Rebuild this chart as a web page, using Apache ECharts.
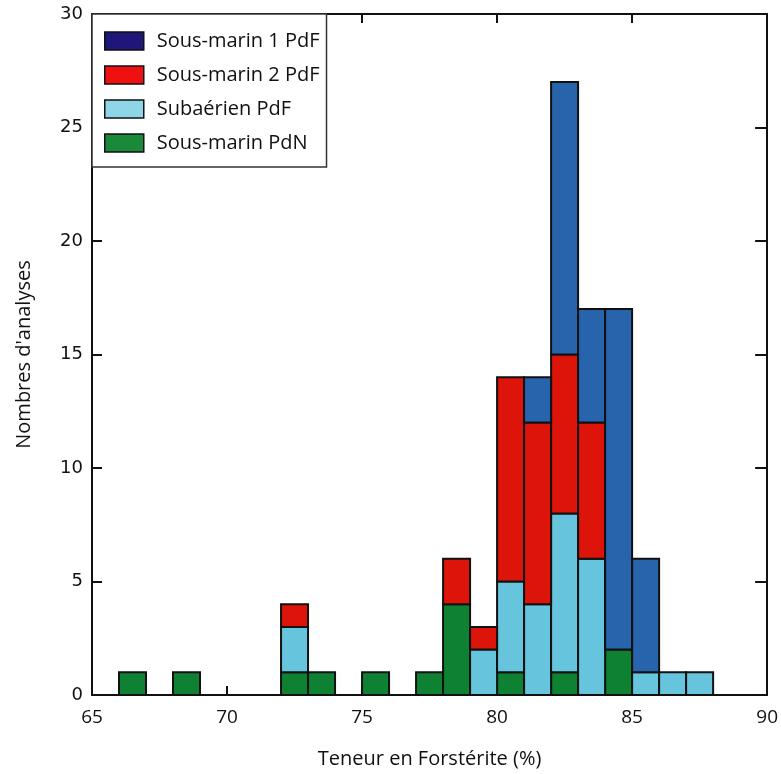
<!DOCTYPE html>
<html>
<head>
<meta charset="utf-8">
<script src="https://cdn.jsdelivr.net/npm/echarts@6/dist/echarts.min.js"></script>
<style>
html,body{margin:0;padding:0;background:#fff;}
#chart{width:781px;height:774px;}
</style>
</head>
<body>
<div id="chart"></div>
<script>
// Bin starts (bins of width 1, Fo %)
var binStarts = [65,66,67,68,69,70,71,72,73,74,75,76,77,78,79,80,81,82,83,84,85,86,87,88,89];
var binWidth = 1;
// Counts per bin (stack order bottom -> top)
var sousMarinPdN  = [0,1,0,1,0,0,0,1,1,0,1,0,1,4,0,1,0,1,0,2,0,0,0,0,0];
var subaerienPdF  = [0,0,0,0,0,0,0,2,0,0,0,0,0,0,2,4,4,7,6,0,1,1,1,0,0];
var sousMarin2PdF = [0,0,0,0,0,0,0,1,0,0,0,0,0,2,1,9,8,7,6,0,0,0,0,0,0];
var sousMarin1PdF = [0,0,0,0,0,0,0,0,0,0,0,0,0,0,0,0,2,12,5,15,5,0,0,0,0];

var seriesNames = ['Sous-marin PdN','Subaérien PdF','Sous-marin 2 PdF','Sous-marin 1 PdF'];
var seriesValues = [sousMarinPdN, subaerienPdF, sousMarin2PdF, sousMarin1PdF];
var barColors = ['#0e8232','#66c5dc','#dc1409','#2764ab'];
var legendColors = {'Sous-marin 1 PdF':'#1c1779','Sous-marin 2 PdF':'#f01010','Subaérien PdF':'#8fd5e8','Sous-marin PdN':'#1a8a3a'};
var legendOrder = ['Sous-marin 1 PdF','Sous-marin 2 PdF','Subaérien PdF','Sous-marin PdN'];

var xTicks = {min:65, max:90, interval:5};
var yTicks = {min:0, max:30, interval:5};

var base = binStarts.map(function(){return 0;});
var series = seriesValues.map(function(vals, si){
  var data = [];
  vals.forEach(function(v, i){
    if (v > 0) {
      data.push([binStarts[i], binStarts[i] + binWidth, base[i], base[i] + v]);
      base[i] += v;
    }
  });
  return {
    type:'custom',
    name: seriesNames[si],
    itemStyle:{color: barColors[si]},
    data: data,
    encode:{x:[0,1], y:[2,3]},
    renderItem: function(params, api){
      var p0 = api.coord([api.value(0), api.value(2)]);
      var p1 = api.coord([api.value(1), api.value(3)]);
      return {
        type:'rect',
        shape:{x:p0[0], y:p1[1], width:p1[0]-p0[0], height:p0[1]-p1[1]},
        style:{fill: barColors[si], stroke:'#111', lineWidth:2}
      };
    },
    z: 2
  };
});

var chart = echarts.init(document.getElementById('chart'), null, {renderer:'canvas'});
var axisLine = {show:true, onZero:false, lineStyle:{color:'#111', width:2}};
chart.setOption({
  backgroundColor:'#fff',
  animation:false,
  grid:{left:92, right:10, top:14, bottom:75, containLabel:false},
  legend:{
    orient:'vertical', left:92, top:14,
    backgroundColor:'#fff', borderColor:'#333', borderWidth:1.5,
    padding:[17,7,14,12],
    itemWidth:39, itemHeight:18, itemGap:14,
    icon:'rect',
    textStyle:{fontFamily:'Open Sans', fontSize:20, lineHeight:20, color:'#111', padding:[0,0,0,8]},
    data: legendOrder.map(function(n){
      return {name:n, itemStyle:{color:legendColors[n], borderColor:'#111', borderWidth:1.5}};
    }),
    z: 10
  },
  xAxis:[{
    type:'value', min:xTicks.min, max:xTicks.max, interval:xTicks.interval,
    name:'Teneur en Forstérite (%)', nameLocation:'middle', nameGap:54,
    nameTextStyle:{fontFamily:'Open Sans', fontSize:20, color:'#111'},
    axisLine:axisLine,
    axisTick:{show:true, inside:true, length:9, lineStyle:{color:'#111', width:2}},
    axisLabel:{fontFamily:'Open Sans', fontSize:19, color:'#111', margin:13},
    splitLine:{show:false}
  },{
    type:'value', position:'top', min:xTicks.min, max:xTicks.max, interval:xTicks.interval,
    axisLine:axisLine,
    axisTick:{show:true, inside:true, length:9, lineStyle:{color:'#111', width:2}},
    axisLabel:{show:false}, splitLine:{show:false}
  }],
  yAxis:[{
    type:'value', min:yTicks.min, max:yTicks.max, interval:yTicks.interval,
    name:"Nombres d'analyses", nameLocation:'middle', nameGap:58,
    nameTextStyle:{fontFamily:'Open Sans', fontSize:20, color:'#111'},
    axisLine:axisLine,
    axisTick:{show:true, inside:true, length:10, lineStyle:{color:'#111', width:2}},
    axisLabel:{fontFamily:'DejaVu Sans', fontSize:18, color:'#111', margin:9},
    splitLine:{show:false}
  },{
    type:'value', position:'right', min:yTicks.min, max:yTicks.max, interval:yTicks.interval,
    axisLine:axisLine,
    axisTick:{show:true, inside:true, length:12, lineStyle:{color:'#111', width:2}},
    axisLabel:{show:false}, splitLine:{show:false}
  }],
  series: series
});
</script>
</body>
</html>
